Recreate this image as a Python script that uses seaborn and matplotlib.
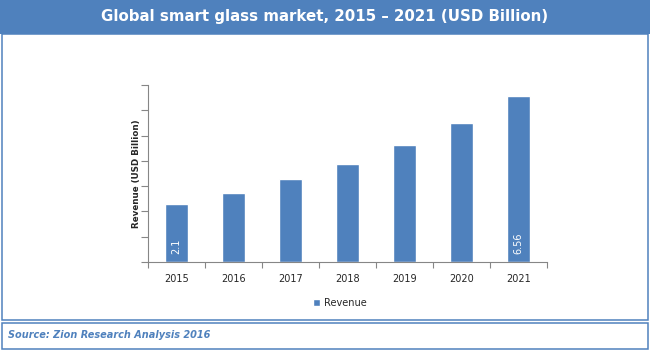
import matplotlib
matplotlib.use("Agg")
import matplotlib.pyplot as plt
import seaborn as sns
import pandas as pd
from matplotlib.patches import Rectangle

years = ["2015", "2016", "2017", "2018", "2019", "2020", "2021"]
revenue = [2.28, 2.73, 3.28, 3.87, 4.62, 5.49, 6.57]
bar_labels = ["2.1", "", "", "", "", "", "6.56"]
series_name = "Revenue"
title = "Global smart glass market, 2015 \u2013 2021 (USD Billion)"
ylabel = "Revenue (USD Billion)"
source = "Source: Zion Research Analysis 2016"

BLUE = "#4F81BD"
W, H = 650, 350

sns.set_theme(style="white")
plt.rcParams["font.family"] = ["DejaVu Sans"]

fig = plt.figure(figsize=(6.5, 3.5), dpi=100)
fig.patch.set_facecolor("white")

def fx(px):
    return px / W

def fy(py):
    return 1 - py / H

# Title bar
fig.patches.append(Rectangle((0, fy(34)), 1, 34 / H, transform=fig.transFigure,
                             facecolor=BLUE, edgecolor="none", zorder=0))
fig.text(0.5, fy(17), title, ha="center", va="center", color="white",
         fontsize=10.8, fontweight="bold")
# Main panel border
fig.patches.append(Rectangle((fx(1.5), fy(319.5)), fx(646), (319.5 - 34) / H,
                             transform=fig.transFigure, facecolor="none",
                             edgecolor=BLUE, lw=1.1, zorder=1))
# Source box border
fig.patches.append(Rectangle((fx(1.5), fy(348.5)), fx(646), (348.5 - 322.5) / H,
                             transform=fig.transFigure, facecolor="none",
                             edgecolor=BLUE, lw=1.1, zorder=1))
fig.text(fx(8), fy(335), source, ha="left", va="center", color=BLUE,
         fontsize=7.0, fontstyle="italic", fontweight="semibold")

ax = fig.add_axes([fx(148), fy(262), fx(547 - 148), (262 - 85) / H])
df = pd.DataFrame({"Year": years, "Revenue": revenue})
sns.barplot(data=df, x="Year", y="Revenue", color=BLUE, width=0.4,
            saturation=1, ax=ax, label=series_name)

ax.set_xlim(-0.5, len(years) - 0.5)
ax.set_ylim(0, 7)
ax.set_yticks(range(0, 8))
ax.set_yticklabels([])
ax.set_xlabel("")
ax.set_ylabel(ylabel, fontsize=6.3, fontweight="bold", labelpad=0)
for s in ["top", "right"]:
    ax.spines[s].set_visible(False)
for s in ["left", "bottom"]:
    ax.spines[s].set_color("#868686")
    ax.spines[s].set_linewidth(0.8)
ax.set_xticks([i - 0.5 for i in range(len(years) + 1)], minor=True)
ax.tick_params(axis="x", which="major", length=0, labelsize=7, pad=9)
ax.tick_params(axis="x", which="minor", length=4, width=0.8, color="#868686",
               direction="out", bottom=True)
ax.tick_params(axis="y", which="major", length=5, width=0.8, color="#868686",
               direction="out", left=True, pad=0)

for i, lab in enumerate(bar_labels):
    if lab:
        ax.text(i, 0.32, lab, rotation=90, ha="center", va="bottom",
                color="white", fontsize=7)

leg = ax.legend(loc="center", bbox_to_anchor=(fx(340), fy(303)),
                bbox_transform=fig.transFigure, frameon=False, fontsize=7,
                handlelength=0.75, handleheight=0.75, handletextpad=0.4)

fig.savefig("out.png", dpi=100)
